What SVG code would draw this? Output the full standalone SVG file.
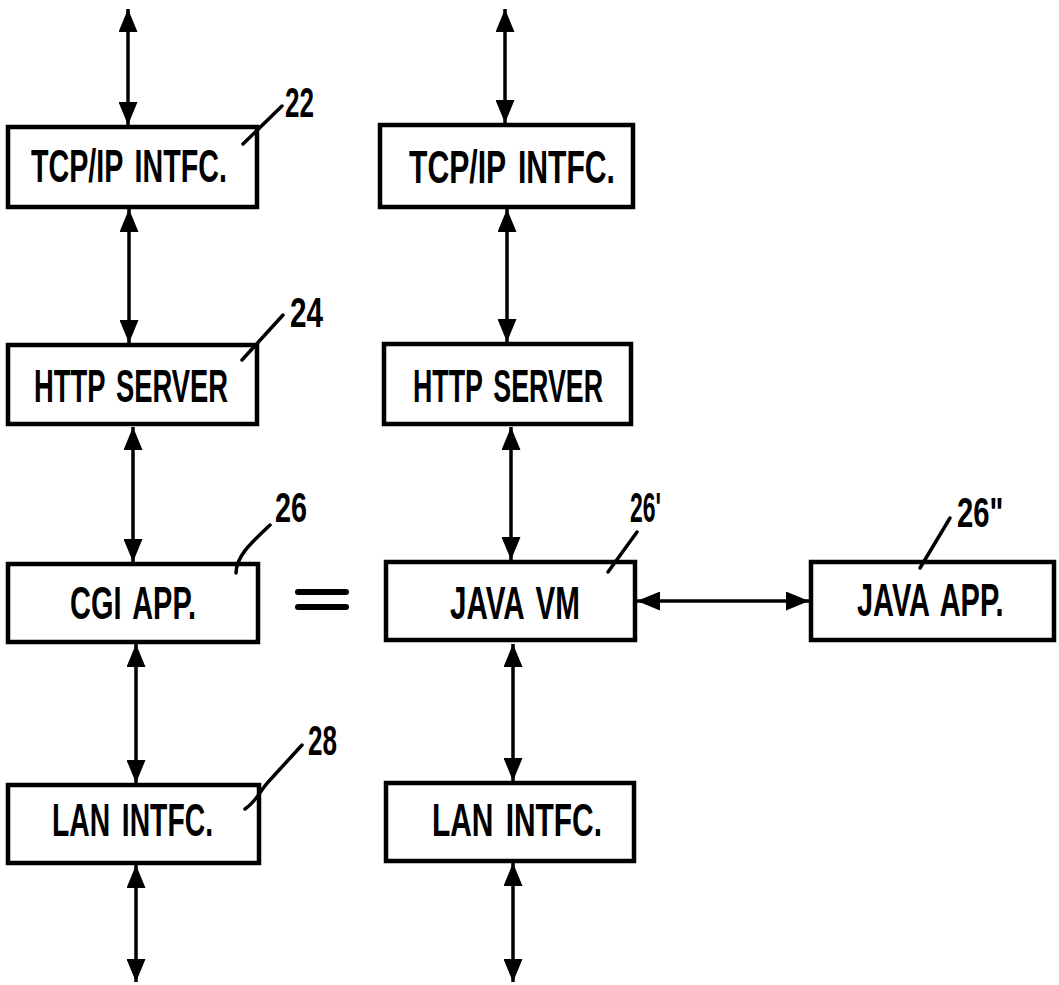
<svg xmlns="http://www.w3.org/2000/svg" width="1059" height="985" viewBox="0 0 1059 985">
<style>
.box{fill:#fff;stroke:#000;stroke-width:4.5}
.lbl{font-family:"Liberation Sans",Arial,sans-serif;font-weight:bold;font-size:46px;fill:#000;word-spacing:6px}
.num{font-family:"Liberation Sans",Arial,sans-serif;font-weight:bold;font-size:43px;fill:#000}
.wire{stroke:#000;stroke-width:3.5;fill:none;marker-start:url(#ah);marker-end:url(#ah)}
.lead{stroke:#000;stroke-width:3.5;fill:none;stroke-linecap:round}
</style>
<defs>
<marker id="ah" markerUnits="userSpaceOnUse" markerWidth="23" markerHeight="19" refX="23" refY="9.5" orient="auto-start-reverse" viewBox="0 0 23 19">
<path d="M0,0 L23,9.5 L0,19 z" fill="#000"/>
</marker>
</defs>
<rect width="1059" height="985" fill="#fff"/>
<g id="connectors">
<line class="wire" x1="128" y1="9" x2="128" y2="125"/>
<line class="wire" x1="129" y1="209" x2="129" y2="343"/>
<line class="wire" x1="133" y1="427" x2="133" y2="562"/>
<line class="wire" x1="136" y1="644" x2="136" y2="783"/>
<line class="wire" x1="136" y1="865" x2="136" y2="982"/>
<line class="wire" x1="505" y1="9" x2="505" y2="123"/>
<line class="wire" x1="507" y1="209" x2="507" y2="342"/>
<line class="wire" x1="511" y1="427" x2="511" y2="560"/>
<line class="wire" x1="513" y1="644" x2="513" y2="781"/>
<line class="wire" x1="513" y1="863" x2="513" y2="982"/>
<line class="wire" x1="637" y1="601" x2="809" y2="601"/>
</g>
<g id="equals">
<line x1="298" y1="592" x2="346" y2="592" stroke="#000" stroke-width="6" stroke-linecap="round"/>
<line x1="298" y1="607" x2="346" y2="607" stroke="#000" stroke-width="6" stroke-linecap="round"/>
</g>
<g id="tcp-left">
<rect class="box" x="8" y="127" width="249" height="80"/>
<text class="lbl" x="31" y="182" textLength="196" lengthAdjust="spacingAndGlyphs">TCP/IP INTFC.</text>
<path class="lead" d="M243,144 L282,106"/>
<text class="num" x="285" y="117" textLength="29" lengthAdjust="spacingAndGlyphs">22</text>
</g>
<g id="http-left">
<rect class="box" x="8" y="345" width="249" height="79"/>
<text class="lbl" x="34" y="402" textLength="194" lengthAdjust="spacingAndGlyphs">HTTP SERVER</text>
<path class="lead" d="M242,360 L283,315"/>
<text class="num" x="290" y="327" textLength="33" lengthAdjust="spacingAndGlyphs">24</text>
</g>
<g id="cgi-left">
<rect class="box" x="8" y="564" width="250" height="78"/>
<text class="lbl" x="70" y="619" textLength="126" lengthAdjust="spacingAndGlyphs">CGI APP.</text>
<path class="lead" d="M236,573 C236,556 252,542 270,525"/>
<text class="num" x="275" y="522" textLength="32" lengthAdjust="spacingAndGlyphs">26</text>
</g>
<g id="lan-left">
<rect class="box" x="8" y="785" width="251" height="78"/>
<text class="lbl" x="52" y="836" textLength="161" lengthAdjust="spacingAndGlyphs">LAN INTFC.</text>
<path class="lead" d="M245,809 C258,800 260,790 270,780 L302,745"/>
<text class="num" x="308" y="755" textLength="29" lengthAdjust="spacingAndGlyphs">28</text>
</g>
<g id="tcp-right">
<rect class="box" x="380" y="125" width="253" height="82"/>
<text class="lbl" x="409" y="183" textLength="206" lengthAdjust="spacingAndGlyphs">TCP/IP INTFC.</text>
</g>
<g id="http-right">
<rect class="box" x="384" y="344" width="247" height="80"/>
<text class="lbl" x="413" y="402" textLength="190" lengthAdjust="spacingAndGlyphs">HTTP SERVER</text>
</g>
<g id="javavm">
<rect class="box" x="386" y="562" width="249" height="78"/>
<text class="lbl" x="450" y="619" textLength="130" lengthAdjust="spacingAndGlyphs">JAVA VM</text>
<path class="lead" d="M608,572 L637,532"/>
<text class="num" x="630" y="522" textLength="31" lengthAdjust="spacingAndGlyphs">26'</text>
</g>
<g id="lan-right">
<rect class="box" x="386" y="783" width="248" height="78"/>
<text class="lbl" x="432" y="836" textLength="170" lengthAdjust="spacingAndGlyphs">LAN INTFC.</text>
</g>
<g id="javaapp">
<rect class="box" x="811" y="562" width="243" height="78"/>
<text class="lbl" transform="translate(857,616) scale(0.63,1)" x="0" y="0">JAVA APP.</text>
<path class="lead" d="M920,568 L950,518"/>
<text class="num" transform="translate(957,527) scale(0.68,1)" x="0" y="0">26"</text>
</g>
</svg>
